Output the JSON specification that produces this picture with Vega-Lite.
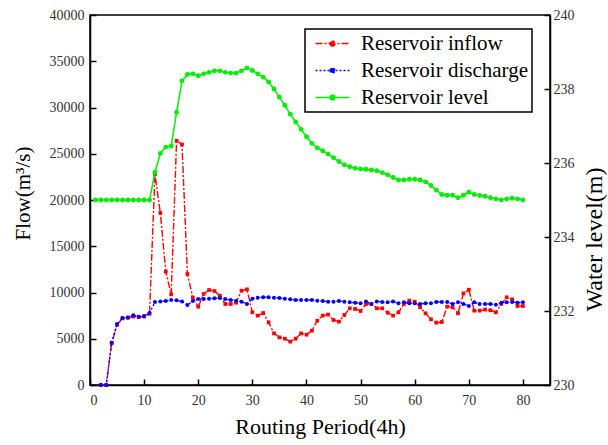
{
  "$schema": "https://vega.github.io/schema/vega-lite/v6.json",
  "width": 460,
  "height": 370,
  "autosize": {"type": "none"},
  "padding": {"left": 90, "top": 15, "right": 58, "bottom": 60},
  "background": "white",
  "config": {
    "view": {"stroke": "black", "strokeWidth": 1.5},
    "font": "Liberation Serif",
    "legend": {"strokeWidth": 1.5},
    "axis": {
      "grid": false,
      "domainColor": "black",
      "domainWidth": 1.5,
      "tickColor": "black",
      "tickWidth": 1.5,
      "tickSize": -6,
      "labelFont": "Liberation Serif",
      "labelFontSize": 14,
      "labelColor": "#333333",
      "titleFont": "Liberation Serif",
      "titleFontWeight": "normal",
      "titleColor": "black"
    }
  },
  "datasets": {
    "inflow": [
      {"t": 2, "s": "Reservoir inflow", "v": 0}, {"t": 3, "s": "Reservoir inflow", "v": 0}, {"t": 4, "s": "Reservoir inflow", "v": 4500}, {"t": 5, "s": "Reservoir inflow", "v": 6500}, {"t": 6, "s": "Reservoir inflow", "v": 7200}, {"t": 7, "s": "Reservoir inflow", "v": 7300}, {"t": 8, "s": "Reservoir inflow", "v": 7400}, {"t": 9, "s": "Reservoir inflow", "v": 7350}, {"t": 10, "s": "Reservoir inflow", "v": 7400}, {"t": 11, "s": "Reservoir inflow", "v": 7700},
      {"t": 12, "s": "Reservoir inflow", "v": 22800}, {"t": 13, "s": "Reservoir inflow", "v": 18600}, {"t": 14, "s": "Reservoir inflow", "v": 12250}, {"t": 15, "s": "Reservoir inflow", "v": 9800}, {"t": 16, "s": "Reservoir inflow", "v": 26400}, {"t": 17, "s": "Reservoir inflow", "v": 26000}, {"t": 18, "s": "Reservoir inflow", "v": 12000}, {"t": 19, "s": "Reservoir inflow", "v": 9460}, {"t": 20, "s": "Reservoir inflow", "v": 8470}, {"t": 21, "s": "Reservoir inflow", "v": 9840},
      {"t": 22, "s": "Reservoir inflow", "v": 10270}, {"t": 23, "s": "Reservoir inflow", "v": 10160}, {"t": 24, "s": "Reservoir inflow", "v": 9660}, {"t": 25, "s": "Reservoir inflow", "v": 8760}, {"t": 26, "s": "Reservoir inflow", "v": 8760}, {"t": 27, "s": "Reservoir inflow", "v": 8900}, {"t": 28, "s": "Reservoir inflow", "v": 10200}, {"t": 29, "s": "Reservoir inflow", "v": 10340}, {"t": 30, "s": "Reservoir inflow", "v": 7860}, {"t": 31, "s": "Reservoir inflow", "v": 7500},
      {"t": 32, "s": "Reservoir inflow", "v": 7780}, {"t": 33, "s": "Reservoir inflow", "v": 6770}, {"t": 34, "s": "Reservoir inflow", "v": 5580}, {"t": 35, "s": "Reservoir inflow", "v": 5150}, {"t": 36, "s": "Reservoir inflow", "v": 5010}, {"t": 37, "s": "Reservoir inflow", "v": 4690}, {"t": 38, "s": "Reservoir inflow", "v": 5010}, {"t": 39, "s": "Reservoir inflow", "v": 5580}, {"t": 40, "s": "Reservoir inflow", "v": 5440}, {"t": 41, "s": "Reservoir inflow", "v": 5870},
      {"t": 42, "s": "Reservoir inflow", "v": 6950}, {"t": 43, "s": "Reservoir inflow", "v": 7500}, {"t": 44, "s": "Reservoir inflow", "v": 7610}, {"t": 45, "s": "Reservoir inflow", "v": 7030}, {"t": 46, "s": "Reservoir inflow", "v": 6850}, {"t": 47, "s": "Reservoir inflow", "v": 7570}, {"t": 48, "s": "Reservoir inflow", "v": 8290}, {"t": 49, "s": "Reservoir inflow", "v": 8220}, {"t": 50, "s": "Reservoir inflow", "v": 8000}, {"t": 51, "s": "Reservoir inflow", "v": 8760},
      {"t": 52, "s": "Reservoir inflow", "v": 8760}, {"t": 53, "s": "Reservoir inflow", "v": 8290}, {"t": 54, "s": "Reservoir inflow", "v": 8290}, {"t": 55, "s": "Reservoir inflow", "v": 7820}, {"t": 56, "s": "Reservoir inflow", "v": 7500}, {"t": 57, "s": "Reservoir inflow", "v": 7860}, {"t": 58, "s": "Reservoir inflow", "v": 8760}, {"t": 59, "s": "Reservoir inflow", "v": 9120}, {"t": 60, "s": "Reservoir inflow", "v": 9010}, {"t": 61, "s": "Reservoir inflow", "v": 8400},
      {"t": 62, "s": "Reservoir inflow", "v": 7750}, {"t": 63, "s": "Reservoir inflow", "v": 7100}, {"t": 64, "s": "Reservoir inflow", "v": 6740}, {"t": 65, "s": "Reservoir inflow", "v": 6810}, {"t": 66, "s": "Reservoir inflow", "v": 8470}, {"t": 67, "s": "Reservoir inflow", "v": 8400}, {"t": 68, "s": "Reservoir inflow", "v": 7750}, {"t": 69, "s": "Reservoir inflow", "v": 9900}, {"t": 70, "s": "Reservoir inflow", "v": 10300}, {"t": 71, "s": "Reservoir inflow", "v": 8040},
      {"t": 72, "s": "Reservoir inflow", "v": 8040}, {"t": 73, "s": "Reservoir inflow", "v": 8150}, {"t": 74, "s": "Reservoir inflow", "v": 8080}, {"t": 75, "s": "Reservoir inflow", "v": 7860}, {"t": 76, "s": "Reservoir inflow", "v": 8760}, {"t": 77, "s": "Reservoir inflow", "v": 9480}, {"t": 78, "s": "Reservoir inflow", "v": 9260}, {"t": 79, "s": "Reservoir inflow", "v": 8540}, {"t": 80, "s": "Reservoir inflow", "v": 8540}
    ],
    "discharge": [
      {"t": 2, "s": "Reservoir discharge", "v": 0}, {"t": 3, "s": "Reservoir discharge", "v": 0}, {"t": 4, "s": "Reservoir discharge", "v": 4575}, {"t": 5, "s": "Reservoir discharge", "v": 6590}, {"t": 6, "s": "Reservoir discharge", "v": 7240}, {"t": 7, "s": "Reservoir discharge", "v": 7280}, {"t": 8, "s": "Reservoir discharge", "v": 7530}, {"t": 9, "s": "Reservoir discharge", "v": 7390}, {"t": 10, "s": "Reservoir discharge", "v": 7460}, {"t": 11, "s": "Reservoir discharge", "v": 7780},
      {"t": 12, "s": "Reservoir discharge", "v": 8970}, {"t": 13, "s": "Reservoir discharge", "v": 9040}, {"t": 14, "s": "Reservoir discharge", "v": 9080}, {"t": 15, "s": "Reservoir discharge", "v": 9190}, {"t": 16, "s": "Reservoir discharge", "v": 9150}, {"t": 17, "s": "Reservoir discharge", "v": 9040}, {"t": 18, "s": "Reservoir discharge", "v": 8650}, {"t": 19, "s": "Reservoir discharge", "v": 9080}, {"t": 20, "s": "Reservoir discharge", "v": 9290}, {"t": 21, "s": "Reservoir discharge", "v": 9290},
      {"t": 22, "s": "Reservoir discharge", "v": 9330}, {"t": 23, "s": "Reservoir discharge", "v": 9370}, {"t": 24, "s": "Reservoir discharge", "v": 9410}, {"t": 25, "s": "Reservoir discharge", "v": 9290}, {"t": 26, "s": "Reservoir discharge", "v": 9190}, {"t": 27, "s": "Reservoir discharge", "v": 9120}, {"t": 28, "s": "Reservoir discharge", "v": 9010}, {"t": 29, "s": "Reservoir discharge", "v": 8760}, {"t": 30, "s": "Reservoir discharge", "v": 9330}, {"t": 31, "s": "Reservoir discharge", "v": 9440},
      {"t": 32, "s": "Reservoir discharge", "v": 9480}, {"t": 33, "s": "Reservoir discharge", "v": 9480}, {"t": 34, "s": "Reservoir discharge", "v": 9440}, {"t": 35, "s": "Reservoir discharge", "v": 9410}, {"t": 36, "s": "Reservoir discharge", "v": 9330}, {"t": 37, "s": "Reservoir discharge", "v": 9260}, {"t": 38, "s": "Reservoir discharge", "v": 9190}, {"t": 39, "s": "Reservoir discharge", "v": 9190}, {"t": 40, "s": "Reservoir discharge", "v": 9190}, {"t": 41, "s": "Reservoir discharge", "v": 9190},
      {"t": 42, "s": "Reservoir discharge", "v": 9120}, {"t": 43, "s": "Reservoir discharge", "v": 9080}, {"t": 44, "s": "Reservoir discharge", "v": 9010}, {"t": 45, "s": "Reservoir discharge", "v": 9010}, {"t": 46, "s": "Reservoir discharge", "v": 9080}, {"t": 47, "s": "Reservoir discharge", "v": 9010}, {"t": 48, "s": "Reservoir discharge", "v": 8940}, {"t": 49, "s": "Reservoir discharge", "v": 8900}, {"t": 50, "s": "Reservoir discharge", "v": 8830}, {"t": 51, "s": "Reservoir discharge", "v": 9040},
      {"t": 52, "s": "Reservoir discharge", "v": 8760}, {"t": 53, "s": "Reservoir discharge", "v": 9040}, {"t": 54, "s": "Reservoir discharge", "v": 8970}, {"t": 55, "s": "Reservoir discharge", "v": 8940}, {"t": 56, "s": "Reservoir discharge", "v": 9040}, {"t": 57, "s": "Reservoir discharge", "v": 8830}, {"t": 58, "s": "Reservoir discharge", "v": 8940}, {"t": 59, "s": "Reservoir discharge", "v": 8830}, {"t": 60, "s": "Reservoir discharge", "v": 8830}, {"t": 61, "s": "Reservoir discharge", "v": 8760},
      {"t": 62, "s": "Reservoir discharge", "v": 8830}, {"t": 63, "s": "Reservoir discharge", "v": 8830}, {"t": 64, "s": "Reservoir discharge", "v": 8970}, {"t": 65, "s": "Reservoir discharge", "v": 8970}, {"t": 66, "s": "Reservoir discharge", "v": 8970}, {"t": 67, "s": "Reservoir discharge", "v": 8760}, {"t": 68, "s": "Reservoir discharge", "v": 8940}, {"t": 69, "s": "Reservoir discharge", "v": 8760}, {"t": 70, "s": "Reservoir discharge", "v": 8540}, {"t": 71, "s": "Reservoir discharge", "v": 8940},
      {"t": 72, "s": "Reservoir discharge", "v": 8760}, {"t": 73, "s": "Reservoir discharge", "v": 8760}, {"t": 74, "s": "Reservoir discharge", "v": 8760}, {"t": 75, "s": "Reservoir discharge", "v": 8680}, {"t": 76, "s": "Reservoir discharge", "v": 8900}, {"t": 77, "s": "Reservoir discharge", "v": 8940}, {"t": 78, "s": "Reservoir discharge", "v": 8970}, {"t": 79, "s": "Reservoir discharge", "v": 8900}, {"t": 80, "s": "Reservoir discharge", "v": 8940}
    ],
    "level": [
      {"t": 1, "s": "Reservoir level", "v": 235}, {"t": 2, "s": "Reservoir level", "v": 235}, {"t": 3, "s": "Reservoir level", "v": 235}, {"t": 4, "s": "Reservoir level", "v": 235}, {"t": 5, "s": "Reservoir level", "v": 235}, {"t": 6, "s": "Reservoir level", "v": 235}, {"t": 7, "s": "Reservoir level", "v": 235}, {"t": 8, "s": "Reservoir level", "v": 235}, {"t": 9, "s": "Reservoir level", "v": 235}, {"t": 10, "s": "Reservoir level", "v": 235},
      {"t": 11, "s": "Reservoir level", "v": 235}, {"t": 12, "s": "Reservoir level", "v": 235.75}, {"t": 13, "s": "Reservoir level", "v": 236.26}, {"t": 14, "s": "Reservoir level", "v": 236.43}, {"t": 15, "s": "Reservoir level", "v": 236.46}, {"t": 16, "s": "Reservoir level", "v": 237.37}, {"t": 17, "s": "Reservoir level", "v": 238.22}, {"t": 18, "s": "Reservoir level", "v": 238.39}, {"t": 19, "s": "Reservoir level", "v": 238.41}, {"t": 20, "s": "Reservoir level", "v": 238.36},
      {"t": 21, "s": "Reservoir level", "v": 238.41}, {"t": 22, "s": "Reservoir level", "v": 238.45}, {"t": 23, "s": "Reservoir level", "v": 238.49}, {"t": 24, "s": "Reservoir level", "v": 238.49}, {"t": 25, "s": "Reservoir level", "v": 238.45}, {"t": 26, "s": "Reservoir level", "v": 238.43}, {"t": 27, "s": "Reservoir level", "v": 238.43}, {"t": 28, "s": "Reservoir level", "v": 238.49}, {"t": 29, "s": "Reservoir level", "v": 238.57}, {"t": 30, "s": "Reservoir level", "v": 238.5},
      {"t": 31, "s": "Reservoir level", "v": 238.41}, {"t": 32, "s": "Reservoir level", "v": 238.32}, {"t": 33, "s": "Reservoir level", "v": 238.19}, {"t": 34, "s": "Reservoir level", "v": 238.0}, {"t": 35, "s": "Reservoir level", "v": 237.78}, {"t": 36, "s": "Reservoir level", "v": 237.56}, {"t": 37, "s": "Reservoir level", "v": 237.32}, {"t": 38, "s": "Reservoir level", "v": 237.11}, {"t": 39, "s": "Reservoir level", "v": 236.91}, {"t": 40, "s": "Reservoir level", "v": 236.71},
      {"t": 41, "s": "Reservoir level", "v": 236.53}, {"t": 42, "s": "Reservoir level", "v": 236.41}, {"t": 43, "s": "Reservoir level", "v": 236.33}, {"t": 44, "s": "Reservoir level", "v": 236.24}, {"t": 45, "s": "Reservoir level", "v": 236.14}, {"t": 46, "s": "Reservoir level", "v": 236.04}, {"t": 47, "s": "Reservoir level", "v": 235.95}, {"t": 48, "s": "Reservoir level", "v": 235.9}, {"t": 49, "s": "Reservoir level", "v": 235.86}, {"t": 50, "s": "Reservoir level", "v": 235.84},
      {"t": 51, "s": "Reservoir level", "v": 235.83}, {"t": 52, "s": "Reservoir level", "v": 235.81}, {"t": 53, "s": "Reservoir level", "v": 235.79}, {"t": 54, "s": "Reservoir level", "v": 235.74}, {"t": 55, "s": "Reservoir level", "v": 235.68}, {"t": 56, "s": "Reservoir level", "v": 235.61}, {"t": 57, "s": "Reservoir level", "v": 235.54}, {"t": 58, "s": "Reservoir level", "v": 235.54}, {"t": 59, "s": "Reservoir level", "v": 235.56}, {"t": 60, "s": "Reservoir level", "v": 235.56},
      {"t": 61, "s": "Reservoir level", "v": 235.54}, {"t": 62, "s": "Reservoir level", "v": 235.49}, {"t": 63, "s": "Reservoir level", "v": 235.39}, {"t": 64, "s": "Reservoir level", "v": 235.27}, {"t": 65, "s": "Reservoir level", "v": 235.15}, {"t": 66, "s": "Reservoir level", "v": 235.13}, {"t": 67, "s": "Reservoir level", "v": 235.13}, {"t": 68, "s": "Reservoir level", "v": 235.06}, {"t": 69, "s": "Reservoir level", "v": 235.13}, {"t": 70, "s": "Reservoir level", "v": 235.21},
      {"t": 71, "s": "Reservoir level", "v": 235.15}, {"t": 72, "s": "Reservoir level", "v": 235.12}, {"t": 73, "s": "Reservoir level", "v": 235.1}, {"t": 74, "s": "Reservoir level", "v": 235.06}, {"t": 75, "s": "Reservoir level", "v": 235.03}, {"t": 76, "s": "Reservoir level", "v": 235.0}, {"t": 77, "s": "Reservoir level", "v": 235.03}, {"t": 78, "s": "Reservoir level", "v": 235.05}, {"t": 79, "s": "Reservoir level", "v": 235.03}, {"t": 80, "s": "Reservoir level", "v": 235.0}
    ]
  },
  "layer": [
    {
      "layer": [
        {
          "data": {"name": "inflow"},
          "mark": {"type": "line", "strokeWidth": 1.4, "point": {"filled": true, "shape": "square", "size": 14}},
          "encoding": {
            "x": {"field": "t", "type": "quantitative", "scale": {"domain": [0, 85], "nice": false}, "axis": {"values": [0, 10, 20, 30, 40, 50, 60, 70, 80], "title": "Routing Period(4h)", "titleFontSize": 22, "labelPadding": 14, "titlePadding": 9}},
            "y": {"field": "v", "type": "quantitative", "scale": {"domain": [0, 40000], "nice": false}, "axis": {"values": [0, 5000, 10000, 15000, 20000, 25000, 30000, 35000, 40000], "format": "d", "title": "Flow(m³/s)", "titleFontSize": 21, "labelPadding": 12, "titleX": -67, "titleY": 178, "titleBaseline": "middle", "titleAngle": 270}},
            "color": {"field": "s", "type": "nominal", "scale": {"domain": ["Reservoir inflow", "Reservoir discharge", "Reservoir level"], "range": ["#ff0000", "#0000ff", "#00ee00"]},
              "legend": {"orient": "none", "legendX": 215, "legendY": 14, "title": null,
                "symbolType": "M-1,0H7.5M2.65,0a0.6,0.6 0 1,0 1.2,0a0.6,0.6 0 1,0 -1.2,0",
                "symbolSize": 64, "symbolStrokeWidth": 1.5, "labelFontSize": 21, "labelFont": "Liberation Serif", "labelColor": "black", "labelOffset": 31, "labelLimit": 400, "strokeColor": "black", "padding": 4, "rowPadding": 5, "fillColor": "white",
                "encode": {"symbols": {"update": {"fill": {"scale": "color", "field": "value"}}}}}},
            "strokeDash": {"field": "s", "type": "nominal", "scale": {"domain": ["Reservoir inflow", "Reservoir discharge", "Reservoir level"], "range": [[7, 2, 2, 2], [2, 2], [1, 0]]}}
          }
        },
        {
          "data": {"name": "discharge"},
          "mark": {"type": "line", "strokeWidth": 1.4, "point": {"filled": true, "shape": "circle", "size": 16}},
          "encoding": {
            "x": {"field": "t", "type": "quantitative"},
            "y": {"field": "v", "type": "quantitative"},
            "color": {"field": "s", "type": "nominal"},
            "strokeDash": {"field": "s", "type": "nominal"}
          }
        }
      ]
    },
    {
      "data": {"name": "level"},
      "mark": {"type": "line", "strokeWidth": 1.5, "point": {"filled": true, "shape": "circle", "size": 24}},
      "encoding": {
        "x": {"field": "t", "type": "quantitative"},
        "y": {"field": "v", "type": "quantitative", "scale": {"domain": [230, 240], "nice": false}, "axis": {"orient": "right", "values": [230, 232, 234, 236, 238, 240], "title": "Water level(m)", "titleFontSize": 24, "labelPadding": 9, "titleX": 44, "titleY": 224, "titleBaseline": "middle", "titleAngle": 270}},
        "color": {"field": "s", "type": "nominal"},
        "strokeDash": {"field": "s", "type": "nominal"}
      }
    }
  ],
  "resolve": {"scale": {"y": "independent"}}
}
